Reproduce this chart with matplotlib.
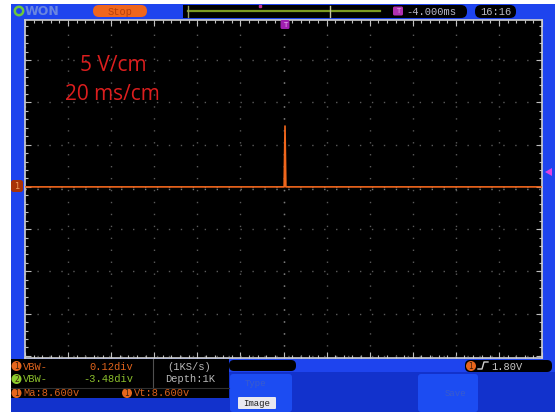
import matplotlib.pyplot as plt
from matplotlib.patches import FancyBboxPatch, Circle, Polygon
from matplotlib.ticker import MultipleLocator

# channel 1 capture (ms, V) at 20 ms/div and 5 V/div
t_ms = [-120.0, -60.0, 0.0, 0.3, 0.7, 1.1, 60.0, 120.0]
v_ch1 = [0.0, 0.0, 0.0, 0.0, 7.2, 0.0, 0.0, 0.0]
trig_level = 1.80
volt_div = 5
time_div = 20
n_xdiv, n_ydiv = 12, 8
ch1_offset = 0.25  # volts above screen centre

vbw1, vbw2 = "0.12div", "-3.48div"
ma_txt, vt_txt = "Ma:8.600v", "Vt:8.600v"
rate_txt, depth_txt = "(1KS/s)", "Depth:1K"
hpos_txt, clock_txt = "-4.000ms", "16:16"

BLUE = "#1e44ee"
DARK_BLUE = "#1232cc"
ORANGE = "#f0661c"
MONO = "Liberation Mono"

W, H = 555, 412
fig = plt.figure(figsize=(W / 100, H / 100), dpi=100, facecolor="white")

# background chrome, pixel coordinates
bg = fig.add_axes([0, 0, 1, 1], zorder=0)
bg.set_xlim(0, W)
bg.set_ylim(H, 0)
bg.axis("off")


def box(ax, x0, y0, x1, y1, color, r=0, **kw):
    p = FancyBboxPatch((x0, y0), x1 - x0, y1 - y0,
                       boxstyle=f"round,pad=0,rounding_size={r}",
                       fc=color, ec=kw.pop("ec", "none"), **kw)
    ax.add_patch(p)
    return p


box(bg, 11, 4, W, H, BLUE)
box(bg, 11, 372, W, H, DARK_BLUE)

# top status bar
bg.add_patch(Circle((19, 11), 4.2, fc="none", ec="#6cc83c", lw=1.8))
bg.text(25, 11.5, "WON", color="#6a86e0", fontsize=9, fontweight="bold",
        va="center", ha="left", family="DejaVu Sans")
box(bg, 93, 5, 147, 17, ORANGE, r=6)
bg.text(120, 11.5, "Stop", color="#b8400c", fontsize=7.5, family=MONO,
        ha="center", va="center")
box(bg, 183, 5, 390, 18, "black")
bg.plot([188, 380], [11, 11], color="#7c9a22", lw=1.6)
bg.plot([188, 188], [6, 17], color="#9aa060", lw=1)
bg.plot([330, 330], [6, 17], color="#c8c8a0", lw=1)
bg.plot([260], [5.5], marker="s", ms=2, color="#c03090")
box(bg, 382, 5, 467, 18, "black", r=6)
box(bg, 393, 6.5, 403, 15.5, "#b030b0", r=1.5)
bg.text(398, 11.2, "T", color="#e0a0e0", fontsize=5, ha="center",
        va="center", family="DejaVu Sans")
bg.text(406, 11.5, hpos_txt, color="#b8b8c8", fontsize=7.5, family=MONO,
        ha="left", va="center")
box(bg, 475, 5, 516, 18, "black", r=6)
bg.text(496, 11.5, clock_txt, color="#b8b8c0", fontsize=7.5, family=MONO,
        ha="center", va="center")

# bottom info panel
box(bg, 11, 359, 229, 398, "black")
bg.plot([153, 153], [359, 387], color="#505050", lw=0.8)
bg.plot([11, 229], [388, 388], color="#303030", lw=0.8)
for y, num, fc, tc, label, val in [
        (366, "1", "#e8661c", "#e0641c", "VBW-", vbw1),
        (379, "2", "#8ccc2c", "#8cc02c", "VBW-", vbw2)]:
    bg.add_patch(Circle((16.5, y), 5, fc=fc, ec="none"))
    bg.text(16.5, y + 0.5, num, color="#40200a", fontsize=5.5,
            ha="center", va="center", family="DejaVu Sans")
    bg.text(23, y + 0.5, label, color=tc, fontsize=7.5, family=MONO,
            ha="left", va="center")
    bg.text(133, y + 0.5, val, color=tc, fontsize=7.5, family=MONO,
            ha="right", va="center")
bg.text(189, 366.5, rate_txt, color="#b8b8b8", fontsize=7.5, family=MONO,
        ha="center", va="center")
bg.text(190, 379.5, depth_txt, color="#b8b8b8", fontsize=7.5, family=MONO,
        ha="center", va="center")
for x, txt in [(16.5, ma_txt), (127, vt_txt)]:
    bg.add_patch(Circle((x, 393), 5, fc="#e8661c", ec="none"))
    bg.text(x, 393.5, "1", color="#40200a", fontsize=5.5, ha="center",
            va="center", family="DejaVu Sans")
    bg.text(x + 7, 393.5, txt, color="#d8601c", fontsize=7.5, family=MONO,
            ha="left", va="center")

box(bg, 229, 360, 296, 371, "black", r=5)
box(bg, 465, 360, 552, 372, "black", r=5)
bg.add_patch(Circle((471, 366), 5, fc="#e8661c", ec="none"))
bg.text(471, 366.5, "1", color="#40200a", fontsize=5.5, ha="center",
        va="center", family="DejaVu Sans")
bg.plot([478, 482, 484, 488], [369, 369, 362, 362], color="#d0d0d0", lw=1)
bg.text(491, 366.5, f"{trig_level:.2f}V", color="#c8c8c8", fontsize=7.5,
        family=MONO, ha="left", va="center")

# soft keys
box(bg, 230, 374, 292, H, "#1c4cf2", r=3)
bg.text(255, 384, "Type", color="#3a5ccc", fontsize=6.5, family=MONO,
        ha="center", va="center")
box(bg, 238, 397, 276, 409, "#e8e8f0", r=1)
bg.text(257, 403, "Image", color="#202020", fontsize=6.5, family=MONO,
        ha="center", va="center")
box(bg, 418, 374, 478, H, "#1c4cf2", r=3)
bg.text(455, 393, "Save", color="#3a5ccc", fontsize=6.5, family=MONO,
        ha="center", va="center")

# waveform area
px0, px1, py0, py1 = 25, 542, 20, 358
ax = fig.add_axes([px0 / W, 1 - py1 / H, (px1 - px0) / W, (py1 - py0) / H],
                  zorder=1)
ax.set_facecolor("black")
half_x = n_xdiv * time_div / 2
half_y = n_ydiv * volt_div / 2
ax.set_xlim(-half_x, half_x)
ax.set_ylim(-half_y - ch1_offset, half_y - ch1_offset)
ax.xaxis.set_major_locator(MultipleLocator(time_div))
ax.xaxis.set_minor_locator(MultipleLocator(time_div / 5))
ax.yaxis.set_major_locator(MultipleLocator(volt_div))
ax.yaxis.set_minor_locator(MultipleLocator(volt_div / 5))
ax.tick_params(which="both", direction="in", colors="#c0c0c0",
               top=True, right=True, labelbottom=False, labelleft=False)
ax.tick_params(which="major", length=4, width=0.8)
ax.tick_params(which="minor", length=2, width=0.8)
for s in ax.spines.values():
    s.set_color("#d0d0d0")
    s.set_linewidth(1.2)
ax.grid(True, which="major", color="#5a5a5a", linestyle=(0, (1, 7.6)),
        lw=1.0)
ax.axhline(-ch1_offset, color="#7a7a7a", linestyle=(0, (1, 7.6)), lw=1.0)
ax.axvline(0, color="#7a7a7a", linestyle=(0, (1, 7.6)), lw=1.0)

ax.plot(t_ms, v_ch1, color=ORANGE, lw=1.2, zorder=3)

# markers and annotations drawn over the waveform area
top = fig.add_axes([0, 0, 1, 1], zorder=2)
top.set_xlim(0, W)
top.set_ylim(H, 0)
top.axis("off")
top.patch.set_alpha(0)
box(top, 280.5, 20, 289.5, 29, "#a020b0", r=1.5)
top.text(285, 24.8, "T", color="#e8b0f0", fontsize=5, ha="center",
         va="center", family="DejaVu Sans")
top.add_patch(Polygon([[545, 172], [552, 168], [552, 176]], closed=True,
                      fc="#e040e0", ec="none"))
box(top, 11, 180, 23, 192, "#a83208", r=2.5)
top.text(17, 186.3, "1", color="#f0a060", fontsize=6, ha="center",
         va="center", family="DejaVu Sans")

top.text(113, 65, f"{volt_div} V/cm", color="#dc1e1e", fontsize=15,
         family="Open Sans", ha="center", va="center")
top.text(112, 94, f"{time_div} ms/cm", color="#dc1e1e", fontsize=15,
         family="Open Sans", ha="center", va="center")

fig.savefig("out.png", dpi=100, facecolor="white")
